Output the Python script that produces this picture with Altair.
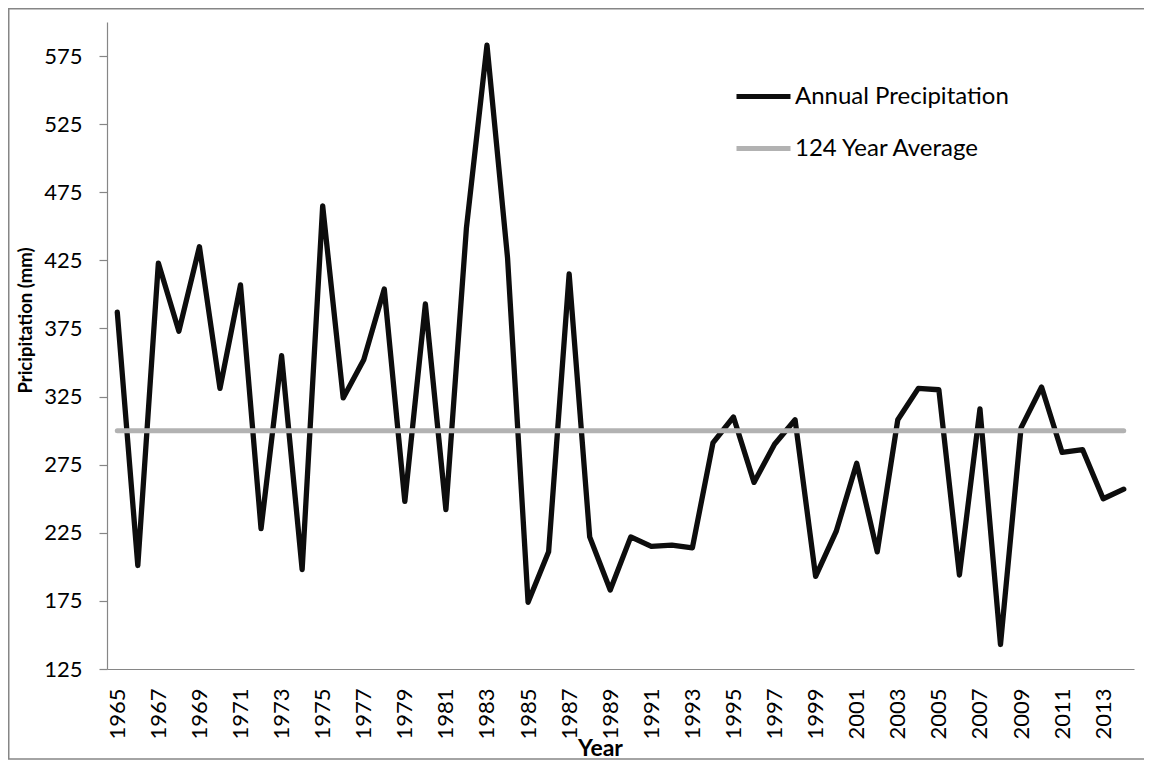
import altair as alt
import pandas as pd

# ---------------- data ----------------
years = list(range(1965, 2015))
precip = [387, 201, 423, 373, 435, 331, 407, 228, 355, 198,
          465, 324, 352, 404, 248, 393, 242, 449, 583, 427,
          174, 211, 415, 222, 183, 222, 215, 216, 214, 291,
          310, 262, 290, 308, 193, 226, 276, 211, 308, 331,
          330, 194, 316, 143, 302, 332, 284, 286, 250, 257]
average_value = 300
series_names = ["Annual Precipitation", "124 Year Average"]
series_colors = ["#0d0d0d", "#b2b2b2"]
y_ticks = [125, 175, 225, 275, 325, 375, 425, 475, 525, 575]
x_ticks = list(range(1965, 2014, 2))

df = pd.DataFrame({
    "Year": years + years,
    "Value": precip + [average_value] * len(years),
    "Series": [series_names[0]] * len(years) + [series_names[1]] * len(years),
})
frame_df = pd.DataFrame({"k": [0]})

# ---------------- layout ----------------
FONT = "Lato"
W, H = 1027, 647
PAD_L, PAD_T = 99, 14
PAD_R = 1136 - PAD_L - W
PAD_B = 752 - PAD_T - H
AXIS_GRAY = "#868686"

color = alt.Color(
    "Series:N",
    scale=alt.Scale(domain=series_names, range=series_colors),
    legend=alt.Legend(
        title=None, orient="none", legendX=627, legendY=45,
        symbolType="stroke", symbolSize=2916, symbolStrokeWidth=5,
        labelFont=FONT, labelFontSize=24, labelColor="#000000",
        labelOffset=2, rowPadding=10, padding=0, labelLimit=0,
    ),
)

x = alt.X(
    "Year:Q",
    scale=alt.Scale(domain=[1964.5, 2014.5], nice=False, zero=False),
    axis=alt.Axis(
        values=x_ticks, format="d", labelAngle=270, ticks=False, grid=False,
        domainColor=AXIS_GRAY, domainWidth=1.2,
        labelFont=FONT, labelFontSize=22, labelColor="#000000",
        labelPadding=19, labelFlush=False, labelOverlap=False,
        title="Year", titleFont=FONT, titleFontSize=23, titleFontWeight="bold",
        titleColor="#000000", titleX=493, titleY=86, titleBaseline="alphabetic",
    ),
)

y = alt.Y(
    "Value:Q",
    scale=alt.Scale(domain=[125, 600], nice=False, zero=False),
    axis=alt.Axis(
        values=y_ticks, grid=False, tickSize=8, tickColor=AXIS_GRAY,
        domainColor=AXIS_GRAY, domainWidth=1.2, tickWidth=1.2,
        labelFont=FONT, labelFontSize=22, labelColor="#000000", labelPadding=17,
        title="Pricipitation (mm)", titleFont=FONT, titleFontSize=18.5,
        titleFontWeight="bold", titleColor="#000000", titleAngle=270,
        titleX=-82, titleY=298, titleBaseline="middle", titleAlign="center",
    ),
)

frame = alt.Chart(frame_df).mark_rect(
    fill=None, stroke=AXIS_GRAY, strokeWidth=1.5
).encode(
    x=alt.value(-PAD_L + 0.75), x2=alt.value(W + 40),
    y=alt.value(-PAD_T + 0.75), y2=alt.value(H + PAD_B - 1),
)

base = alt.Chart(df).encode(x=x, y=y, color=color)

annual = base.transform_filter(
    alt.datum.Series == series_names[0]
).mark_line(strokeWidth=5.3, strokeCap="round", strokeJoin="round")

avg = base.transform_filter(
    alt.datum.Series == series_names[1]
).mark_line(strokeWidth=5, strokeCap="round", strokeJoin="round")

chart = alt.layer(frame, annual, avg).properties(
    width=W, height=H,
    autosize=alt.AutoSizeParams(type="none"),
    padding={"left": PAD_L, "top": PAD_T, "right": PAD_R, "bottom": PAD_B},
    background="white",
).configure_view(stroke=None)

chart.save("out.html", embed_options={"renderer": "svg", "actions": False})
